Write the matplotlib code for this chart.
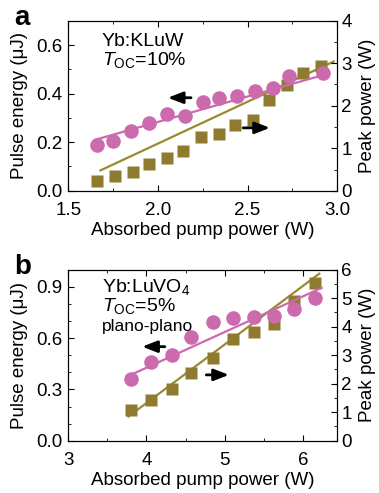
import matplotlib.pyplot as plt
from matplotlib.ticker import MultipleLocator

plt.rcParams['font.family'] = ['Liberation Sans', 'DejaVu Sans']
plt.rcParams['mathtext.fontset'] = 'custom'
plt.rcParams['mathtext.rm'] = 'Liberation Sans'
plt.rcParams['mathtext.it'] = 'Liberation Sans:italic'

# panel a: Yb:KLuW
a_x_e = [1.66, 1.75, 1.85, 1.95, 2.05, 2.15, 2.25, 2.34, 2.44, 2.54, 2.64, 2.73, 2.92]
a_energy = [0.187, 0.204, 0.248, 0.279, 0.314, 0.307, 0.366, 0.380, 0.392, 0.409, 0.424, 0.472, 0.483]
a_x_p = [1.66, 1.76, 1.86, 1.95, 2.05, 2.14, 2.24, 2.34, 2.43, 2.53, 2.62, 2.72, 2.81, 2.91]
a_peak = [0.24, 0.34, 0.45, 0.62, 0.77, 0.94, 1.26, 1.34, 1.55, 1.67, 2.13, 2.48, 2.78, 2.93]
a_fit_e_x = [1.65, 2.915]
a_fit_e_y = [0.21, 0.475]
a_fit_p_x = [1.68, 2.98]
a_fit_p_y = [0.48, 3.04]

# panel b: Yb:LuVO4
b_x = [3.80, 4.06, 4.33, 4.57, 4.85, 5.11, 5.38, 5.63, 5.89, 6.16]
b_energy = [0.361, 0.462, 0.499, 0.606, 0.692, 0.717, 0.723, 0.731, 0.770, 0.834]
b_peak = [1.07, 1.44, 1.81, 2.38, 2.89, 3.57, 3.81, 4.08, 4.91, 5.53]
b_fit_e_x = [3.77, 6.24]
b_fit_e_y = [0.379, 0.894]
b_fit_p_x = [3.77, 6.21]
b_fit_p_y = [0.85, 5.86]

pink = '#CC6AAE'
olive = '#8E7B30'
olive_line = '#9A8A2F'

fig = plt.figure(figsize=(3.79, 4.93), dpi=100)


def panel(rect, xe, ye, xp, yp, fe, fp, xlim, ylim, y2lim, xmaj, xmin, ymaj, y2maj, arrows):
    ax = fig.add_axes(rect)
    ax2 = ax.twinx()
    ax.set_zorder(ax2.get_zorder() + 1)
    ax.patch.set_visible(False)
    ax2.plot(fp[0], fp[1], color=olive_line, lw=1.6, zorder=1)
    ax2.plot(xp, yp, 's', color=olive, ms=9, mec='none', zorder=2)
    ax.plot(fe[0], fe[1], color=pink, lw=1.6, zorder=1)
    ax.plot(xe, ye, 'o', color=pink, ms=10.5, mec='none', zorder=2)
    ax.set_xlim(*xlim)
    ax.set_ylim(*ylim)
    ax2.set_ylim(*y2lim)
    ax.xaxis.set_major_locator(MultipleLocator(xmaj))
    ax.xaxis.set_minor_locator(MultipleLocator(xmin))
    ax.yaxis.set_major_locator(MultipleLocator(ymaj))
    ax.yaxis.set_minor_locator(MultipleLocator(0.1))
    ax2.yaxis.set_major_locator(MultipleLocator(y2maj))
    ax2.yaxis.set_minor_locator(MultipleLocator(y2maj / 2))
    ax.tick_params(axis='both', which='both', direction='in', top=True, labelsize=13.5)
    ax.tick_params(axis='x', pad=8)
    ax.tick_params(axis='y', pad=4)
    ax.tick_params(which='major', length=4)
    ax.tick_params(which='minor', length=2.5)
    ax2.tick_params(axis='y', which='both', direction='in', labelsize=13.5, pad=3)
    ax2.tick_params(which='major', length=4)
    ax2.tick_params(which='minor', length=2.5)
    ax.set_xlabel('Absorbed pump power (W)', fontsize=13.5, labelpad=2)
    ax.set_ylabel('Pulse energy (\u03bcJ)', fontsize=13.5, labelpad=6)
    ax2.set_ylabel('Peak power (W)', fontsize=13.5, labelpad=5)
    for (x0, y0, x1, y1) in arrows:
        ax.annotate('', xy=(x1, y1), xytext=(x0, y0),
                    arrowprops=dict(arrowstyle='-|>,head_length=0.9,head_width=0.35',
                                    color='black', lw=2), zorder=5)
    return ax


ax_a = panel([0.18, 0.613, 0.71, 0.345],
             a_x_e, a_energy, a_x_p, a_peak,
             (a_fit_e_x, a_fit_e_y), (a_fit_p_x, a_fit_p_y),
             (1.5, 3.0), (0, 0.7), (0, 4), 0.5, 0.25, 0.2, 1,
             [(2.20, 0.383, 2.04, 0.383), (2.46, 0.259, 2.64, 0.259)])
ax_a.text(0.125, 0.88, 'Yb:KLuW', transform=ax_a.transAxes, fontsize=14, va='center')
ax_a.text(0.125, 0.77, '$T_{\\rm OC}$=10%', transform=ax_a.transAxes, fontsize=14, va='center')

ax_b = panel([0.18, 0.106, 0.71, 0.347],
             b_x, b_energy, b_x, b_peak,
             (b_fit_e_x, b_fit_e_y), (b_fit_p_x, b_fit_p_y),
             (3, 6.44), (0, 1.0), (0, 6), 1, 0.5, 0.3, 1,
             [(4.27, 0.55, 3.91, 0.55), (4.73, 0.385, 5.09, 0.385)])
ax_b.text(0.125, 0.90, 'Yb:LuVO$_4$', transform=ax_b.transAxes, fontsize=14, va='center')
ax_b.text(0.125, 0.79, '$T_{\\rm OC}$=5%', transform=ax_b.transAxes, fontsize=14, va='center')
ax_b.text(0.125, 0.67, 'plano-plano', transform=ax_b.transAxes, fontsize=12.5, va='center')

fig.text(0.038, 0.963, 'a', fontsize=20, fontweight='bold', va='center')
fig.text(0.038, 0.459, 'b', fontsize=20, fontweight='bold', va='center')

fig.savefig('out.png', dpi=100)
